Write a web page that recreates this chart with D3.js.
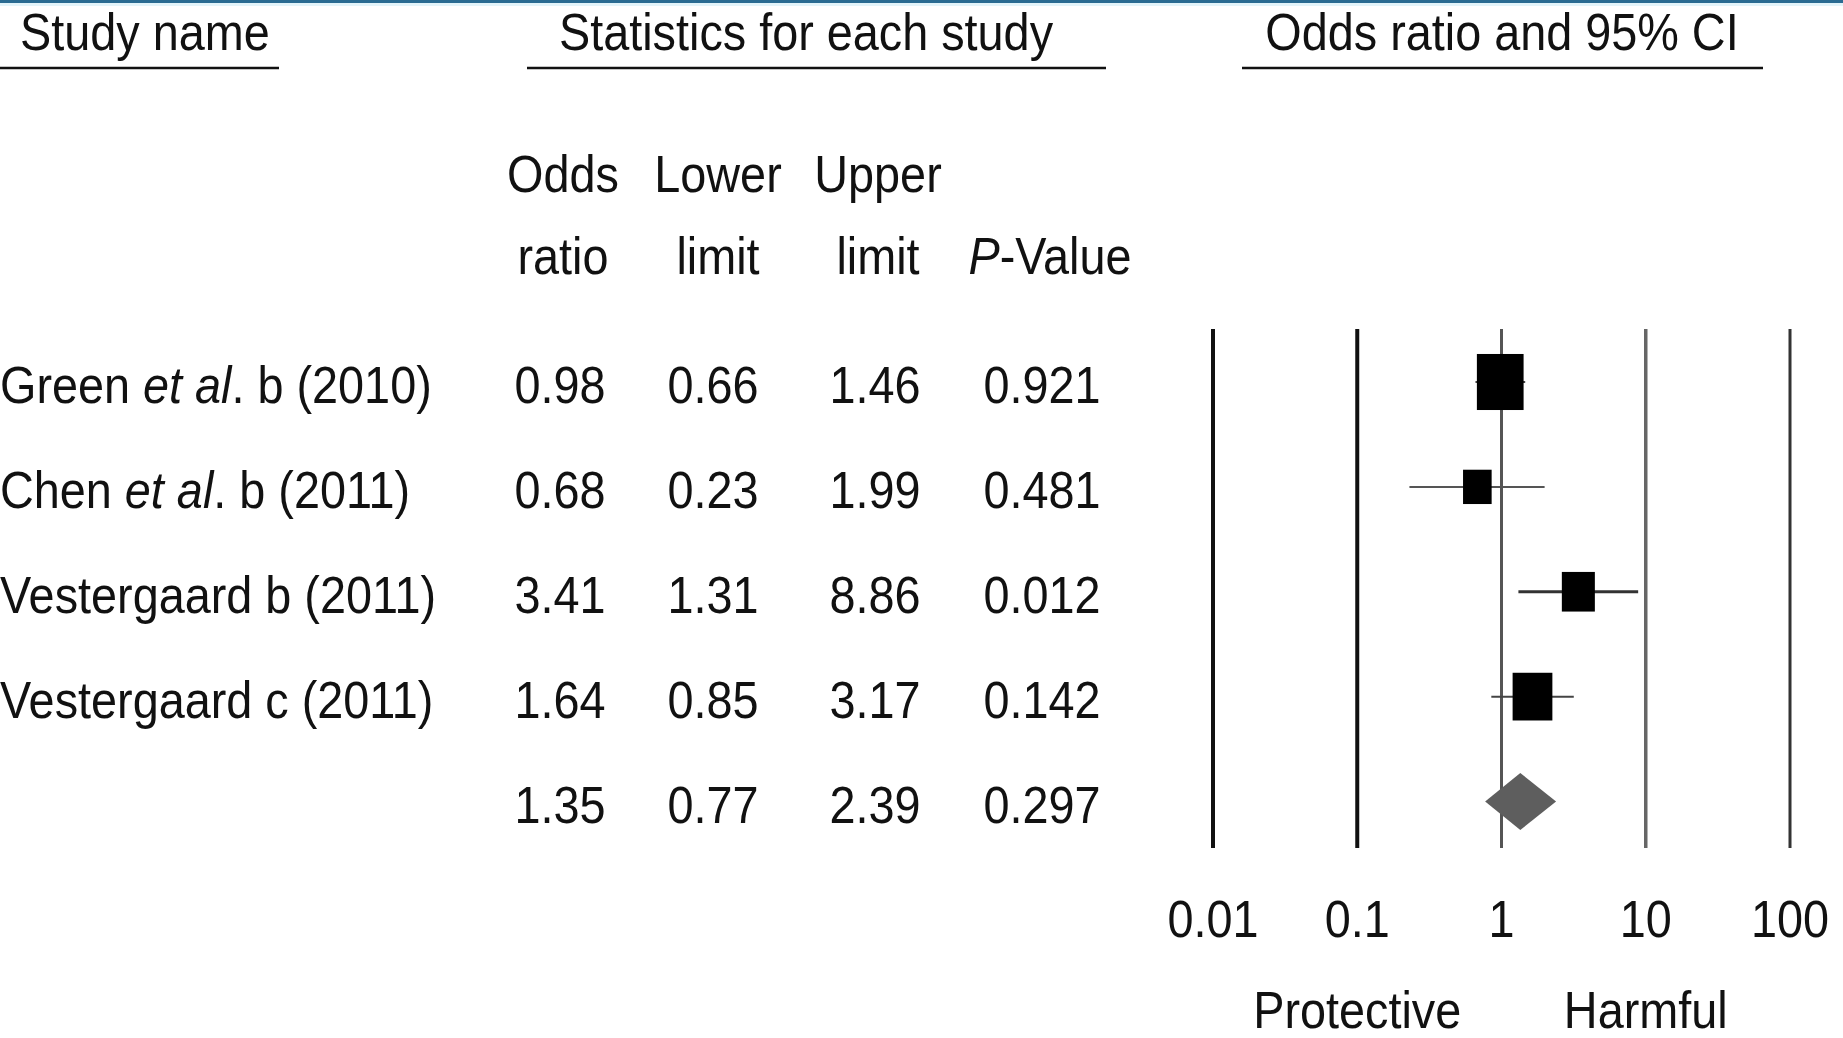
<!DOCTYPE html>
<html>
<head>
<meta charset="utf-8">
<script src="https://cdn.jsdelivr.net/npm/d3@7"></script>
<style>
  html, body { margin: 0; padding: 0; background: #fff; }
  svg { display: block; }
  text { font-family: "Liberation Sans", Arial, Helvetica, sans-serif; fill: #111; }
</style>
</head>
<body>
<script>
// ---------- DATA ----------
const studyNames = ["Green et al. b (2010)", "Chen et al. b (2011)", "Vestergaard b (2011)", "Vestergaard c (2011)"];
const oddsRatio  = [0.98, 0.68, 3.41, 1.64];
const lowerLimit = [0.66, 0.23, 1.31, 0.85];
const upperLimit = [1.46, 1.99, 8.86, 3.17];
const pValues    = [0.921, 0.481, 0.012, 0.142];
const weights    = [40, 15, 20, 29];           // relative study weights (square area)
const summaryRow = [1.35, 0.77, 2.39, 0.297];  // pooled OR, lower, upper, P
const tickValues = [0.01, 0.1, 1, 10, 100];
const tickLabels = ["0.01", "0.1", "1", "10", "100"];
const sectionHeaders = ["Study name", "Statistics for each study", "Odds ratio and 95% CI"];
const columnHeadTop = ["Odds", "Lower", "Upper", ""];
const columnHeadBottom = ["ratio", "limit", "limit", "P-Value"];
const directionLabels = ["Protective", "Harmful"];

// ---------- LAYOUT ----------
const W = 1843, H = 1038;
const FS = 52, SX = 0.9;
const svg = d3.select("body").append("svg").attr("width", W).attr("height", H);

// top border
svg.append("rect").attr("x", 0).attr("y", 0).attr("width", W).attr("height", 3).attr("fill", "#2b6b92");
svg.append("rect").attr("x", 0).attr("y", 3).attr("width", W).attr("height", 3).attr("fill", "#e3f4fa");

const x = d3.scaleLog().domain([0.01, 100]).range([1213, 1790]);
const y = d3.scaleLinear().domain([0, 4]).range([382, 801.5]);
const side = d3.scaleSqrt().domain([0, 40]).range([0, 46.7]);
const colX = d3.scaleOrdinal().domain([0, 1, 2, 3]).range([560, 713, 875, 1042]);
const headX = d3.scaleOrdinal().domain([0, 1, 2, 3]).range([563, 718, 878, 1050]);

function txt(g, s, px, py, anchor) {
  return g.append("text")
    .attr("transform", `translate(${px},${py}) scale(${SX},1)`)
    .attr("text-anchor", anchor || "middle")
    .attr("font-size", FS)
    .text(s);
}

// ---------- SECTION HEADERS ----------
const heads = [
  { t: sectionHeaders[0], tx: 20, a: "start", u0: 0, u1: 279 },
  { t: sectionHeaders[1], tx: 806, a: "middle", u0: 527, u1: 1106 },
  { t: sectionHeaders[2], tx: 1502, a: "middle", u0: 1242, u1: 1763 }
];
heads.forEach(h => {
  txt(svg, h.t, h.tx, 50, h.a);
  svg.append("line").attr("x1", h.u0).attr("x2", h.u1).attr("y1", 68).attr("y2", 68)
    .attr("stroke", "#111").attr("stroke-width", 2.5);
});

// ---------- COLUMN HEADERS ----------
columnHeadTop.forEach((s, i) => { if (s) txt(svg, s, headX(i), 192); });
columnHeadBottom.forEach((s, i) => {
  const t = txt(svg, "", headX(i), 274);
  if (s.startsWith("P-")) {
    t.append("tspan").attr("font-style", "italic").text("P");
    t.append("tspan").text(s.slice(1));
  } else t.text(s);
});

// ---------- STUDY ROWS ----------
studyNames.forEach((name, i) => {
  const t = txt(svg, "", 0, y(i) + 21, "start");
  const k = name.indexOf("et al.");
  if (k >= 0) {
    t.append("tspan").text(name.slice(0, k));
    t.append("tspan").attr("font-style", "italic").text("et al");
    t.append("tspan").text(name.slice(k + 5));
  } else t.text(name);
  const vals = [oddsRatio[i].toFixed(2), lowerLimit[i].toFixed(2), upperLimit[i].toFixed(2), pValues[i].toFixed(3)];
  vals.forEach((v, j) => txt(svg, v, colX(j), y(i) + 21));
});
// summary row values
[summaryRow[0].toFixed(2), summaryRow[1].toFixed(2), summaryRow[2].toFixed(2), summaryRow[3].toFixed(3)]
  .forEach((v, j) => txt(svg, v, colX(j), y(4) + 21));

// ---------- FOREST PLOT ----------
const lineStyle = [
  { c: "#111", w: 4 }, { c: "#111", w: 4 }, { c: "#555", w: 3 }, { c: "#666", w: 3.5 }, { c: "#333", w: 3 }
];
svg.append("g").selectAll("line").data(tickValues).join("line")
  .attr("x1", d => x(d)).attr("x2", d => x(d))
  .attr("y1", 329).attr("y2", 848)
  .attr("stroke", (d, i) => lineStyle[i].c)
  .attr("stroke-width", (d, i) => lineStyle[i].w);

// tick labels
tickValues.forEach((v, i) => txt(svg, tickLabels[i], x(v), 937));
// direction labels
txt(svg, directionLabels[0], x(0.1), 1028);
txt(svg, directionLabels[1], x(10), 1028);

const rows = studyNames.map((n, i) => ({ i, or: oddsRatio[i], lo: lowerLimit[i], hi: upperLimit[i], w: weights[i] }));
const ciColor = ["#444", "#555", "#333", "#444"];
const ciWidth = [2, 2, 3, 2];
svg.append("g").selectAll("line").data(rows).join("line")
  .attr("x1", d => x(d.lo)).attr("x2", d => x(d.hi))
  .attr("y1", d => y(d.i)).attr("y2", d => y(d.i))
  .attr("stroke", d => ciColor[d.i]).attr("stroke-width", d => ciWidth[d.i]);

svg.append("g").selectAll("rect").data(rows).join("rect")
  .attr("x", d => x(d.or) - side(d.w) / 2)
  .attr("width", d => side(d.w))
  .attr("y", d => y(d.i) - side(d.w) * 1.2 / 2)
  .attr("height", d => side(d.w) * 1.2)
  .attr("fill", "#000");

// summary diamond
const dy = y(4), dh = 28.5;
svg.append("path")
  .attr("d", `M${x(summaryRow[1])},${dy} L${x(summaryRow[0])},${dy - dh} L${x(summaryRow[2])},${dy} L${x(summaryRow[0])},${dy + dh} Z`)
  .attr("fill", "#5e5e5e");
</script>
</body>
</html>
